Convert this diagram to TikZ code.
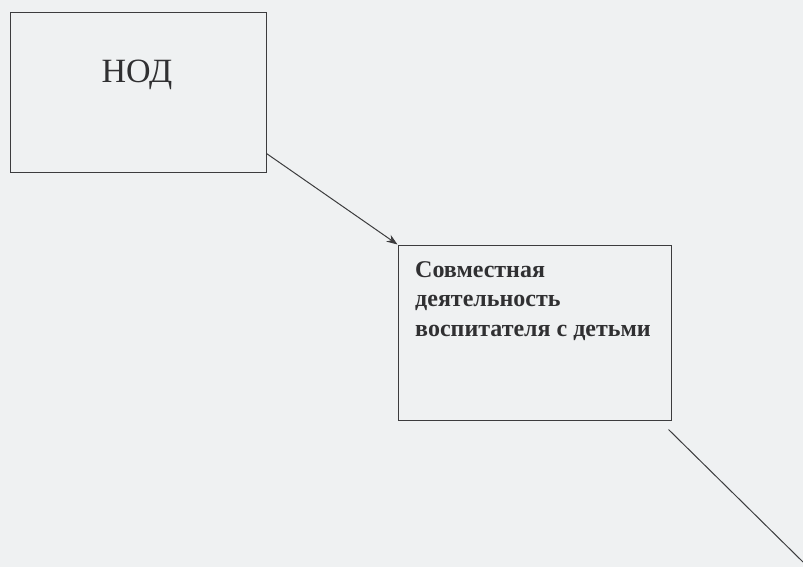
\documentclass[tikz,border=0pt]{standalone}
\usepackage{fontspec}
\setmainfont{Liberation Serif}
\definecolor{paper}{RGB}{239, 241, 242}
\definecolor{ink}{RGB}{60, 60, 62}
\usetikzlibrary{arrows.meta, positioning, calc}

\begin{document}
\begin{tikzpicture}[x=1pt, y=-1pt]
  % Paper
  \fill[paper] (0, 0) rectangle (803, 567);
  \useasboundingbox (0, 0) rectangle (803, 567);

  % First box
  \node[draw=ink, line width=1pt, minimum width=256pt, minimum height=159pt, inner sep=0pt] (nod) at (138, 92.5) {};
  \node[font=\fontsize{34}{36}\selectfont, text=ink!80!black] (nodtext) at (137, 75) {НОД};

  % Second box
  \node[draw=ink, line width=1pt, minimum width=273pt, minimum height=175pt, inner sep=0pt] (joint) at (534.5, 332.5) {};
  \node[anchor=north west, align=left, inner sep=0pt, font=\fontsize{24}{29.5}\selectfont\bfseries, text=ink!80!black] (jointtext) at (415, 261) {Совместная\\деятельность\\воспитателя с детьми};

  % Connectors
  \draw[ink, line width=1pt, -{Stealth[length=11pt, width=8pt]}] ([yshift=19pt]nod.south east) -- (joint.north west);
  \coordinate (exit) at (803, 562);
  \draw[ink, line width=1pt] ([xshift=-3pt, yshift=-9pt]joint.south east) -- (exit);
\end{tikzpicture}
\end{document}
